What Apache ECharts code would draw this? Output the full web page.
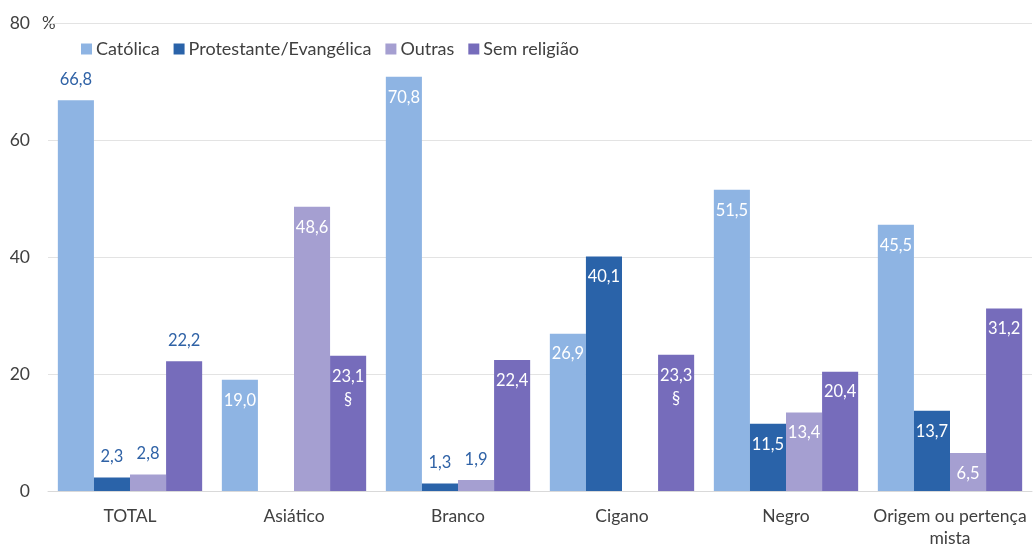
<!DOCTYPE html>
<html>
<head>
<meta charset="utf-8">
<script src="https://cdn.jsdelivr.net/npm/echarts@6/dist/echarts.min.js"></script>
<style>
  html, body { margin: 0; padding: 0; background: #fff; }
  #chart { width: 1033px; height: 546px; }
</style>
</head>
<body>
<div id="chart"></div>
<script>
// categories and values, null = no value shown
const categories = ['TOTAL', 'Asiático', 'Branco', 'Cigano', 'Negro', 'Origem ou pertença\nmista']
const catolica = [66.8, 19.0, 70.8, 26.9, 51.5, 45.5]
const protestante = [2.3, null, 1.3, 40.1, 11.5, 13.7]
const outras = [2.8, 48.6, 1.9, null, 13.4, 6.5]
const semReligiao = [22.2, 23.1, 22.4, 23.3, 20.4, 31.2]
// footnote marks under some labels
const semReligiaoNotes = ['', '§', '', '§', '', '']
const yTicks = [0, 20, 40, 60, 80]

const FONT = 'Lato, "Open Sans", sans-serif'
const blueText = '#2f62a6'

function fmt(v) {
  return v.toFixed(1).replace('.', ',')
}

// TOTAL group and very small bars get their label above the bar
function makeData(values, notes) {
  return values.map((v, i) => {
    if (v === null) return '-'
    const outside = i === 0 || v < 5
    const note = notes && notes[i] ? '\n' + notes[i] : ''
    return {
      value: v,
      label: {
        show: true,
        position: outside ? 'top' : 'insideTop',
        distance: 9,
        color: outside ? blueText : '#fff',
        fontFamily: FONT,
        fontSize: 16.5,
        lineHeight: 23,
        formatter: fmt(v) + note
      }
    }
  })
}

function makeSeries(name, values, color, notes) {
  return {
    name: name,
    type: 'bar',
    barGap: '0%',
    barCategoryGap: '12%',
    itemStyle: { color: color },
    emphasis: { disabled: true },
    data: makeData(values, notes)
  }
}

const chart = echarts.init(document.getElementById('chart'))
const option = {
  animation: false,
  textStyle: { fontFamily: FONT },
  grid: {
    left: 48,
    right: 1,
    top: 23,
    bottom: 55,
    outerBoundsMode: 'none'
  },
  legend: {
    left: 76,
    top: 35,
    itemWidth: 11,
    itemHeight: 11,
    itemGap: 14,
    icon: 'rect',
    textStyle: { color: '#404040', fontSize: 18, fontFamily: FONT, padding: [0, 0, 0, -1] },
    data: ['Católica', 'Protestante/Evangélica', 'Outras', 'Sem religião']
  },
  graphic: [
    {
      type: 'text',
      left: 42,
      top: 15,
      style: { text: '%', fill: '#404040', font: '17px ' + FONT }
    }
  ],
  xAxis: {
    type: 'category',
    data: categories,
    axisTick: { show: false },
    axisLine: { lineStyle: { color: '#d9d9d9', width: 1 } },
    axisLabel: {
      color: '#404040',
      fontSize: 17.5,
      fontFamily: FONT,
      margin: 14,
      lineHeight: 22,
      interval: 0
    }
  },
  yAxis: {
    type: 'value',
    min: yTicks[0],
    max: yTicks[yTicks.length - 1],
    interval: 20,
    axisLine: { show: false },
    axisTick: { show: false },
    axisLabel: {
      color: '#404040',
      fontSize: 17.5,
      fontFamily: FONT,
      margin: 18
    },
    splitLine: { lineStyle: { color: '#e3e3e3', width: 1 } }
  },
  series: [
    makeSeries('Católica', catolica, '#8eb4e3'),
    makeSeries('Protestante/Evangélica', protestante, '#2a63a9'),
    makeSeries('Outras', outras, '#a59fd1'),
    makeSeries('Sem religião', semReligiao, '#766cbb', semReligiaoNotes)
  ]
}
chart.setOption(option)
</script>
</body>
</html>
